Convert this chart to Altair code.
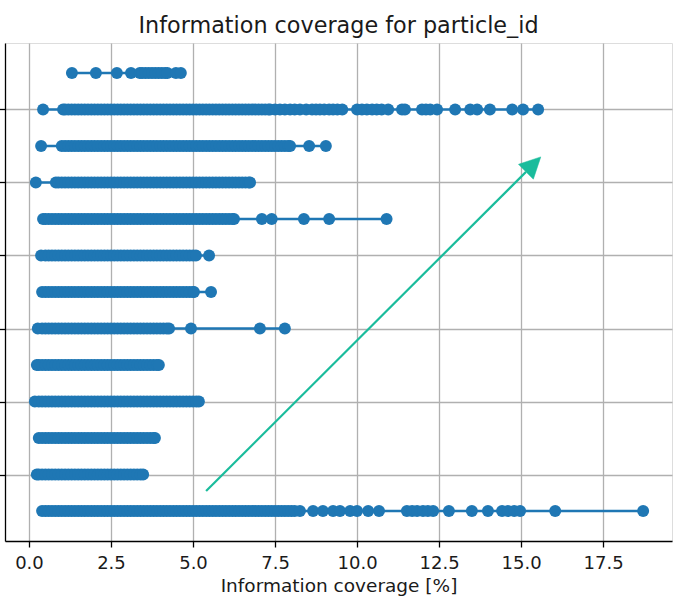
import altair as alt
import pandas as pd

# Information coverage [%] of every sample, one list per particle_id row (row 0 at the bottom)
coverage_row00 = [0.4, 0.5, 0.6, 0.7, 0.8, 0.9, 1.0, 1.1, 1.2, 1.3, 1.4, 1.5, 1.6, 1.7, 1.8, 1.9,
                  2.0, 2.1, 2.2, 2.3, 2.4, 2.5, 2.6, 2.7, 2.8, 2.9, 3.0, 3.1, 3.2, 3.3, 3.4, 3.5,
                  3.6, 3.7, 3.8, 3.9, 4.0, 4.1, 4.2, 4.3, 4.4, 4.5, 4.6, 4.7, 4.8, 4.9, 5.0, 5.1,
                  5.2, 5.3, 5.4, 5.5, 5.6, 5.7, 5.8, 5.9, 6.0, 6.1, 6.2, 6.3, 6.4, 6.5, 6.6, 6.7,
                  6.8, 6.9, 7.0, 7.1, 7.2, 7.3, 7.4, 7.5, 7.6, 7.7, 7.8, 7.9, 8.0, 8.1, 8.26,
                  8.66, 8.96, 9.27, 9.48, 9.79, 10.00, 10.34, 10.67, 11.52, 11.68, 11.83, 12.01,
                  12.16, 12.32, 12.80, 13.50, 13.99, 14.42, 14.60, 14.79, 14.97, 16.04, 18.72]
coverage_row01 = [0.24, 0.3, 0.4, 0.5, 0.6, 0.7, 0.8, 0.9, 1.0, 1.1, 1.2, 1.3, 1.4, 1.5, 1.6,
                  1.7, 1.8, 1.9, 2.0, 2.1, 2.2, 2.3, 2.4, 2.5, 2.6, 2.7, 2.8, 2.9, 3.0, 3.1, 3.2,
                  3.3, 3.4, 3.48]
coverage_row02 = [0.3, 0.4, 0.5, 0.6, 0.7, 0.8, 0.9, 1.0, 1.1, 1.2, 1.3, 1.4, 1.5, 1.6, 1.7,
                  1.8, 1.9, 2.0, 2.1, 2.2, 2.3, 2.4, 2.5, 2.6, 2.7, 2.8, 2.9, 3.0, 3.1, 3.2, 3.3,
                  3.4, 3.5, 3.6, 3.7, 3.8, 3.84]
coverage_row03 = [0.18, 0.3, 0.4, 0.5, 0.6, 0.7, 0.8, 0.9, 1.0, 1.1, 1.2, 1.3, 1.4, 1.5, 1.6,
                  1.7, 1.8, 1.9, 2.0, 2.1, 2.2, 2.3, 2.4, 2.5, 2.6, 2.7, 2.8, 2.9, 3.0, 3.1, 3.2,
                  3.3, 3.4, 3.5, 3.6, 3.7, 3.8, 3.9, 4.0, 4.1, 4.2, 4.3, 4.4, 4.5, 4.6, 4.7, 4.8,
                  4.9, 5.0, 5.1, 5.18]
coverage_row04 = [0.24, 0.3, 0.4, 0.5, 0.6, 0.7, 0.8, 0.9, 1.0, 1.1, 1.2, 1.3, 1.4, 1.5, 1.6,
                  1.7, 1.8, 1.9, 2.0, 2.1, 2.2, 2.3, 2.4, 2.5, 2.6, 2.7, 2.8, 2.9, 3.0, 3.1, 3.2,
                  3.3, 3.4, 3.5, 3.6, 3.7, 3.8, 3.9, 3.96]
coverage_row05 = [0.27, 0.4, 0.5, 0.6, 0.7, 0.8, 0.9, 1.0, 1.1, 1.2, 1.3, 1.4, 1.5, 1.6, 1.7,
                  1.8, 1.9, 2.0, 2.1, 2.2, 2.3, 2.4, 2.5, 2.6, 2.7, 2.8, 2.9, 3.0, 3.1, 3.2, 3.3,
                  3.4, 3.5, 3.6, 3.7, 3.8, 3.9, 4.0, 4.1, 4.2, 4.27, 4.94, 7.04, 7.80]
coverage_row06 = [0.4, 0.5, 0.6, 0.7, 0.8, 0.9, 1.0, 1.1, 1.2, 1.3, 1.4, 1.5, 1.6, 1.7, 1.8,
                  1.9, 2.0, 2.1, 2.2, 2.3, 2.4, 2.5, 2.6, 2.7, 2.8, 2.9, 3.0, 3.1, 3.2, 3.3, 3.4,
                  3.5, 3.6, 3.7, 3.8, 3.9, 4.0, 4.1, 4.2, 4.3, 4.4, 4.5, 4.6, 4.7, 4.8, 4.9, 5.0,
                  5.03, 5.55]
coverage_row07 = [0.37, 0.5, 0.6, 0.7, 0.8, 0.9, 1.0, 1.1, 1.2, 1.3, 1.4, 1.5, 1.6, 1.7, 1.8,
                  1.9, 2.0, 2.1, 2.2, 2.3, 2.4, 2.5, 2.6, 2.7, 2.8, 2.9, 3.0, 3.1, 3.2, 3.3, 3.4,
                  3.5, 3.6, 3.7, 3.8, 3.9, 4.0, 4.1, 4.2, 4.3, 4.4, 4.5, 4.6, 4.7, 4.8, 4.9, 5.0,
                  5.09, 5.49]
coverage_row08 = [0.43, 0.5, 0.6, 0.7, 0.8, 0.9, 1.0, 1.1, 1.2, 1.3, 1.4, 1.5, 1.6, 1.7, 1.8,
                  1.9, 2.0, 2.1, 2.2, 2.3, 2.4, 2.5, 2.6, 2.7, 2.8, 2.9, 3.0, 3.1, 3.2, 3.3, 3.4,
                  3.5, 3.6, 3.7, 3.8, 3.9, 4.0, 4.1, 4.2, 4.3, 4.4, 4.5, 4.6, 4.7, 4.8, 4.9, 5.0,
                  5.1, 5.2, 5.3, 5.4, 5.5, 5.6, 5.7, 5.8, 5.9, 6.0, 6.1, 6.2, 6.25, 7.10, 7.40,
                  8.38, 9.15, 10.90]
coverage_row09 = [0.21, 0.82, 0.9, 1.0, 1.1, 1.2, 1.3, 1.4, 1.5, 1.6, 1.7, 1.8, 1.9, 2.0, 2.1,
                  2.2, 2.3, 2.4, 2.5, 2.6, 2.7, 2.8, 2.9, 3.0, 3.1, 3.2, 3.3, 3.4, 3.5, 3.6, 3.7,
                  3.8, 3.9, 4.0, 4.1, 4.2, 4.3, 4.4, 4.5, 4.6, 4.7, 4.8, 4.9, 5.0, 5.1, 5.2, 5.3,
                  5.4, 5.5, 5.6, 5.7, 5.8, 5.9, 6.0, 6.1, 6.2, 6.3, 6.4, 6.5, 6.6, 6.7, 6.74]
coverage_row10 = [0.37, 1.0, 1.1, 1.2, 1.3, 1.4, 1.5, 1.6, 1.7, 1.8, 1.9, 2.0, 2.1, 2.2, 2.3,
                  2.4, 2.5, 2.6, 2.7, 2.8, 2.9, 3.0, 3.1, 3.2, 3.3, 3.4, 3.5, 3.6, 3.7, 3.8, 3.9,
                  4.0, 4.1, 4.2, 4.3, 4.4, 4.5, 4.6, 4.7, 4.8, 4.9, 5.0, 5.1, 5.2, 5.3, 5.4, 5.5,
                  5.6, 5.7, 5.8, 5.9, 6.0, 6.1, 6.2, 6.3, 6.4, 6.5, 6.6, 6.7, 6.8, 6.9, 7.0, 7.1,
                  7.2, 7.3, 7.4, 7.5, 7.6, 7.7, 7.8, 7.9, 7.96, 8.54, 9.05]
coverage_row11 = [0.43, 1.04, 1.1, 1.2, 1.3, 1.4, 1.5, 1.6, 1.7, 1.8, 1.9, 2.0, 2.1, 2.2, 2.3,
                  2.4, 2.5, 2.6, 2.7, 2.8, 2.9, 3.0, 3.1, 3.2, 3.3, 3.4, 3.5, 3.6, 3.7, 3.8, 3.9,
                  4.0, 4.1, 4.2, 4.3, 4.4, 4.5, 4.6, 4.7, 4.8, 4.9, 5.0, 5.1, 5.2, 5.3, 5.4, 5.5,
                  5.6, 5.7, 5.8, 5.9, 6.0, 6.1, 6.2, 6.3, 6.4, 6.5, 6.6, 6.7, 6.8, 6.9, 7.0, 7.1,
                  7.2, 7.3, 7.35, 7.50, 7.65, 7.80, 7.96, 8.10, 8.26, 8.45, 8.63, 8.75, 8.87,
                  9.00, 9.15, 9.27, 9.40, 9.55, 10.00, 10.15, 10.30, 10.46, 10.60, 10.75, 10.95,
                  11.37, 11.46, 11.98, 12.10, 12.23, 12.44, 12.99, 13.45, 13.66, 14.05, 14.73,
                  15.06, 15.52]
coverage_row12 = [1.31, 2.04, 2.68, 3.11, 3.38, 3.45, 3.55, 3.65, 3.75, 3.85, 3.95, 4.05, 4.15,
                  4.22, 4.48, 4.63]

coverage_rows = [coverage_row00, coverage_row01, coverage_row02, coverage_row03,
                 coverage_row04, coverage_row05, coverage_row06, coverage_row07,
                 coverage_row08, coverage_row09, coverage_row10, coverage_row11,
                 coverage_row12]

x_ticks = [0.0, 2.5, 5.0, 7.5, 10.0, 12.5, 15.0, 17.5]
y_ticks = [1, 3, 5, 7, 9, 11]

records = []
for row, values in enumerate(coverage_rows):
    for v in values:
        records.append({"row": row, "coverage": v})
samples = pd.DataFrame(records)

BLUE = "#1f77b4"
TEAL = "#1abc9c"
GRID = "#b0b0b0"
FONT = "DejaVu Sans"

x_scale = alt.Scale(domain=[-0.73, 19.6], nice=False, zero=False)
y_scale = alt.Scale(domain=[-0.82, 12.82], nice=False, zero=False)

x_axis = alt.Axis(values=x_ticks, format=".1f", title="Information coverage [%]",
                  grid=True, gridColor=GRID, gridWidth=1.3,
                  domainColor="black", domainWidth=1.3, tickColor="black", tickWidth=1.3,
                  tickSize=6, labelFont=FONT, labelFontSize=18, labelColor="#1a1a1a",
                  labelPadding=7, titleFont=FONT, titleFontSize=18.5,
                  titleFontWeight="normal", titleColor="#1a1a1a", titlePadding=4)
y_axis = alt.Axis(values=y_ticks, labels=False, title=None,
                  grid=True, gridColor=GRID, gridWidth=1.3,
                  domainColor="black", domainWidth=1.3, tickColor="black", tickWidth=1.3,
                  tickSize=6)

base = alt.Chart(samples)

# one connecting line per row, from its smallest to its largest value
spans = base.mark_rule(color=BLUE, strokeWidth=2.6).encode(
    x=alt.X("min(coverage):Q", scale=x_scale, axis=x_axis),
    x2="max(coverage):Q",
    y=alt.Y("row:Q", scale=y_scale, axis=y_axis),
)

dots = base.mark_circle(color=BLUE, size=143, opacity=1).encode(
    x=alt.X("coverage:Q", scale=x_scale),
    y=alt.Y("row:Q", scale=y_scale),
)

# annotation arrow: shaft, then a filled head whose tip sits on the target point
arrow_df = pd.DataFrame([{"x": 5.4, "y": 0.55, "x2": 15.15, "y2": 9.29}])
arrow_line = alt.Chart(arrow_df).mark_rule(color=TEAL, strokeWidth=2.2).encode(
    x=alt.X("x:Q", scale=x_scale), y=alt.Y("y:Q", scale=y_scale),
    x2="x2:Q", y2="y2:Q",
)
head_df = pd.DataFrame([{"x": 15.6, "y": 9.7}])
arrow_head = alt.Chart(head_df).mark_point(
    shape="M0,0 L0.5,1 L-0.5,1 Z", size=1764, angle=45,
    filled=True, fill=TEAL, stroke=TEAL, strokeWidth=0.5, opacity=1,
).encode(x=alt.X("x:Q", scale=x_scale), y=alt.Y("y:Q", scale=y_scale))

chart = alt.layer(spans, dots, arrow_line, arrow_head).properties(
    width=667, height=498,
    title=alt.TitleParams("Information coverage for particle_id", font=FONT, fontSize=22.3,
                          fontWeight="normal", color="#1a1a1a", offset=6),
    autosize=alt.AutoSizeParams(type="none"),
    padding={"left": 5, "top": 43, "right": 2, "bottom": 58},
).configure_view(stroke="black", strokeWidth=1.3).configure(background="white")

chart.save("out.html", embed_options={"renderer": "svg", "actions": False})
